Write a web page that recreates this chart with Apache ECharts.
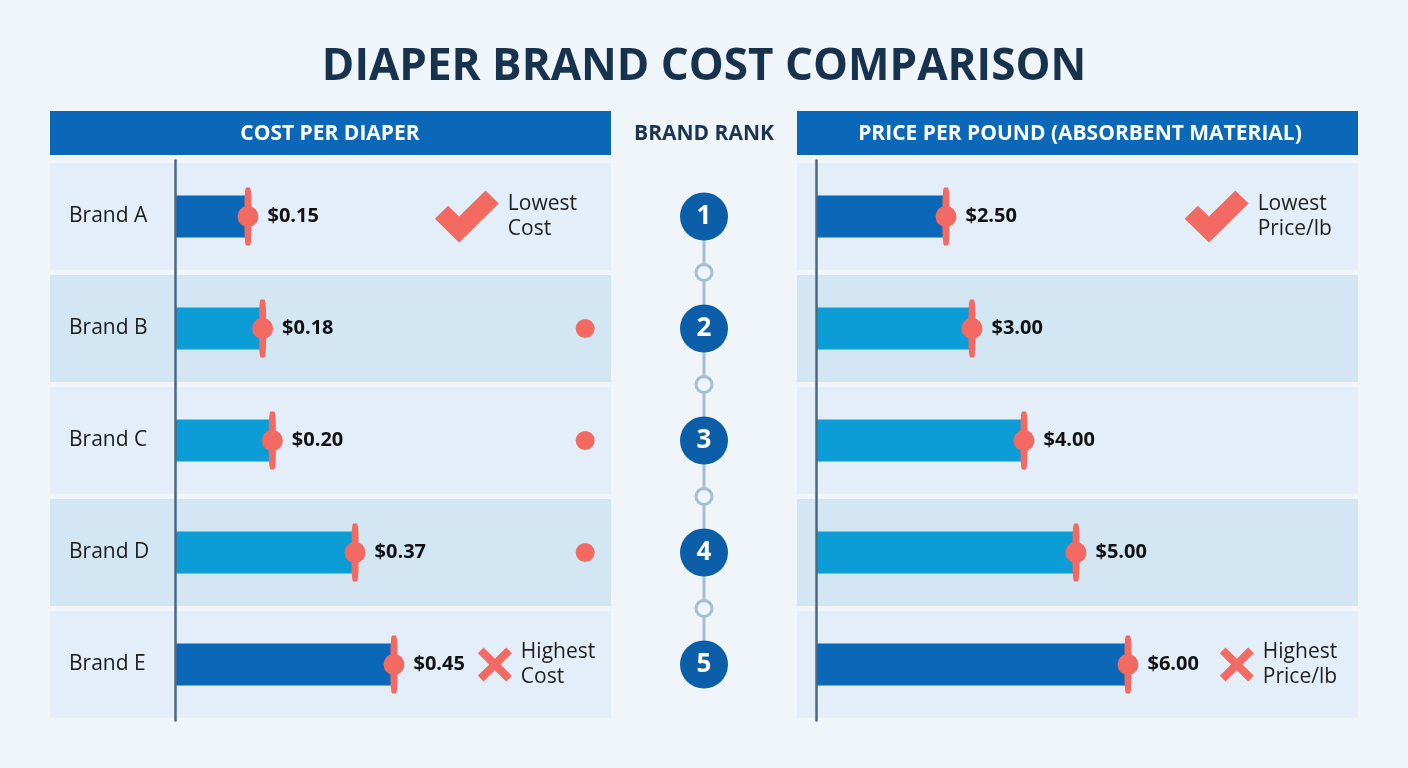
<!DOCTYPE html>
<html>
<head>
<meta charset="utf-8">
<script src="https://cdn.jsdelivr.net/npm/echarts@6/dist/echarts.min.js"></script>
<style>
  html, body { margin: 0; padding: 0; background: #f0f5fa; }
  #chart { width: 1408px; height: 768px; }
</style>
</head>
<body>
<div id="chart"></div>
<script>
const brands = ["Brand A", "Brand B", "Brand C", "Brand D", "Brand E"];
const costPerDiaper = [0.15, 0.18, 0.2, 0.37, 0.45];
const pricePerPound = [2.5, 3.0, 4.0, 5.0, 6.0];
const ranks = [1, 2, 3, 4, 5];
const costNotes = ["Lowest\nCost", "", "", "", "Highest\nCost"];
const priceNotes = ["Lowest\nPrice/lb", "", "", "", "Highest\nPrice/lb"];

const FONT = "Open Sans";
const DARK = "#0b68b8";
const LIGHT = "#0c9dd6";
const RED = "#f26a62";
const ROW_LIGHT = "#e3eef8";
const ROW_DARK = "#d3e6f4";

const CHECK = "path://M0,13 L6,7 L11,12 L23,0 L29,6 L11,24 Z";
const CROSS = "path://M0,4 L4,0 L12,8 L20,0 L24,4 L16,12 L24,20 L20,24 L12,16 L4,24 L0,20 L8,12 Z";

const chart = echarts.init(document.getElementById("chart"));

const gridTop = 160.5, gridHeight = 560;

function barColor(arr, v) {
  const mn = Math.min(...arr), mx = Math.max(...arr);
  return v === mn || v === mx ? DARK : LIGHT;
}

function rowBands(gi) {
  return {
    type: "bar", xAxisIndex: gi, yAxisIndex: gi, barWidth: 107, silent: true, z: 0,
    data: brands.map((b, i) => ({ value: 1, itemStyle: { color: i % 2 ? ROW_DARK : ROW_LIGHT } }))
  };
}

function bars(gi, arr) {
  return [
    {
      type: "bar", xAxisIndex: gi, yAxisIndex: gi, barWidth: 42, z: 2,
      data: arr.map(v => ({ value: v, itemStyle: { color: barColor(arr, v) } }))
    },
    {
      type: "scatter", xAxisIndex: gi, yAxisIndex: gi, symbol: "roundRect", symbolSize: [7, 58], z: 3,
      itemStyle: { color: RED, opacity: 1 },
      data: arr.map((v, i) => [v, brands[i]])
    },
    {
      type: "scatter", xAxisIndex: gi, yAxisIndex: gi, symbol: "circle", symbolSize: 21, z: 4,
      itemStyle: { color: RED, opacity: 1 },
      label: {
        show: true, position: "right", distance: 9,
        formatter: p => "$" + p.value[0].toFixed(2),
        fontFamily: FONT, fontSize: 20, fontWeight: "bold", color: "#111"
      },
      data: arr.map((v, i) => [v, brands[i]])
    }
  ];
}

function notes(gi, arr, texts, pos, showDots) {
  const mn = Math.min(...arr), mx = Math.max(...arr);
  const data = [];
  arr.forEach((v, i) => {
    if (v === mn) data.push({ value: [pos.check, brands[i]], symbol: CHECK, symbolSize: [64, 52], note: texts[i] });
    else if (v === mx) data.push({ value: [pos.cross, brands[i]], symbol: CROSS, symbolSize: [34, 34], note: texts[i] });
    else if (showDots) data.push({ value: [pos.dot, brands[i]], symbol: "circle", symbolSize: 19, note: "" });
  });
  return {
    type: "scatter", xAxisIndex: gi, yAxisIndex: gi, z: 3,
    itemStyle: { color: RED, opacity: 1 },
    label: {
      show: true, position: "right", distance: 9,
      formatter: p => p.data.note,
      fontFamily: FONT, fontSize: 21, lineHeight: 25, color: "#1e1e1e", align: "left"
    },
    data: data
  };
}

const hiddenVal = (min, max) => ({ type: "value", min: min, max: max, show: false });
const hiddenCat = gi => ({ type: "category", data: brands, inverse: true, show: false, gridIndex: gi });
const headFont = "bold 21px 'Open Sans'";

chart.setOption({
  backgroundColor: "#f0f5fa",
  textStyle: { fontFamily: FONT },
  title: {
    text: "DIAPER BRAND COST COMPARISON",
    left: "center", top: 40,
    textStyle: { fontFamily: FONT, fontSize: 44, fontWeight: "bold", color: "#17324d" }
  },
  graphic: [
    { type: "rect", shape: { x: 50, y: 111, width: 561, height: 44 }, style: { fill: DARK } },
    { type: "text", x: 330, y: 134, style: { text: "COST PER DIAPER", fill: "#fff", font: headFont, align: "center", verticalAlign: "middle" } },
    { type: "rect", shape: { x: 797, y: 111, width: 561, height: 44 }, style: { fill: DARK } },
    { type: "text", x: 1080, y: 134, style: { text: "PRICE PER POUND (ABSORBENT MATERIAL)", fill: "#fff", font: headFont, align: "center", verticalAlign: "middle" } },
    { type: "text", x: 704, y: 134, style: { text: "BRAND RANK", fill: "#1c3450", font: headFont, align: "center", verticalAlign: "middle" } }
  ],
  grid: [
    { left: 50, width: 561, top: gridTop, height: gridHeight },
    { left: 175, width: 292, top: gridTop, height: gridHeight },
    { left: 680, width: 48, top: gridTop, height: gridHeight },
    { left: 797, width: 561, top: gridTop, height: gridHeight },
    { left: 816, width: 416, top: gridTop, height: gridHeight }
  ],
  xAxis: [
    Object.assign(hiddenVal(0, 1), { gridIndex: 0 }),
    Object.assign(hiddenVal(0, 0.6), { gridIndex: 1 }),
    Object.assign(hiddenVal(0, 1), { gridIndex: 2 }),
    Object.assign(hiddenVal(0, 1), { gridIndex: 3 }),
    Object.assign(hiddenVal(0, 8), { gridIndex: 4 })
  ],
  yAxis: [
    hiddenCat(0),
    {
      type: "category", data: brands, inverse: true, gridIndex: 1, z: 10,
      axisTick: { show: false },
      axisLine: { show: true, lineStyle: { color: "#4b6784", width: 2.5 } },
      axisLabel: { align: "left", margin: 106, fontFamily: FONT, fontSize: 21, color: "#1a1a1a" }
    },
    { type: "value", min: 0.5, max: 5.5, inverse: true, show: false, gridIndex: 2 },
    hiddenCat(3),
    {
      type: "category", data: brands, inverse: true, gridIndex: 4, z: 10,
      axisTick: { show: false },
      axisLine: { show: true, lineStyle: { color: "#4b6784", width: 2.5 } },
      axisLabel: { show: false }
    }
  ],
  series: [
    rowBands(0),
    rowBands(3),
    ...bars(1, costPerDiaper),
    ...bars(4, pricePerPound),
    notes(0, costPerDiaper, costNotes, { check: 0.743, cross: 0.793, dot: 0.954 }, true),
    notes(3, pricePerPound, priceNotes, { check: 0.748, cross: 0.784, dot: 0.95 }, false),
    {
      type: "line", xAxisIndex: 2, yAxisIndex: 2, symbol: "none", z: 1, silent: true,
      lineStyle: { color: "#a9bdd3", width: 3 },
      data: ranks.map(r => [0.5, r])
    },
    {
      type: "scatter", xAxisIndex: 2, yAxisIndex: 2, symbolSize: 16, z: 2, silent: true,
      itemStyle: { color: "#eef4fa", borderColor: "#a9bdd3", borderWidth: 3, opacity: 1 },
      data: ranks.slice(1).map(r => [0.5, r - 0.5])
    },
    {
      type: "scatter", xAxisIndex: 2, yAxisIndex: 2, symbolSize: 48, z: 3,
      itemStyle: { color: "#0c5ea8", opacity: 1 },
      label: {
        show: true, position: "inside", formatter: p => String(p.value[1]),
        fontFamily: FONT, fontSize: 26, fontWeight: "bold", color: "#fff"
      },
      data: ranks.map(r => [0.5, r])
    }
  ]
});
</script>
</body>
</html>
